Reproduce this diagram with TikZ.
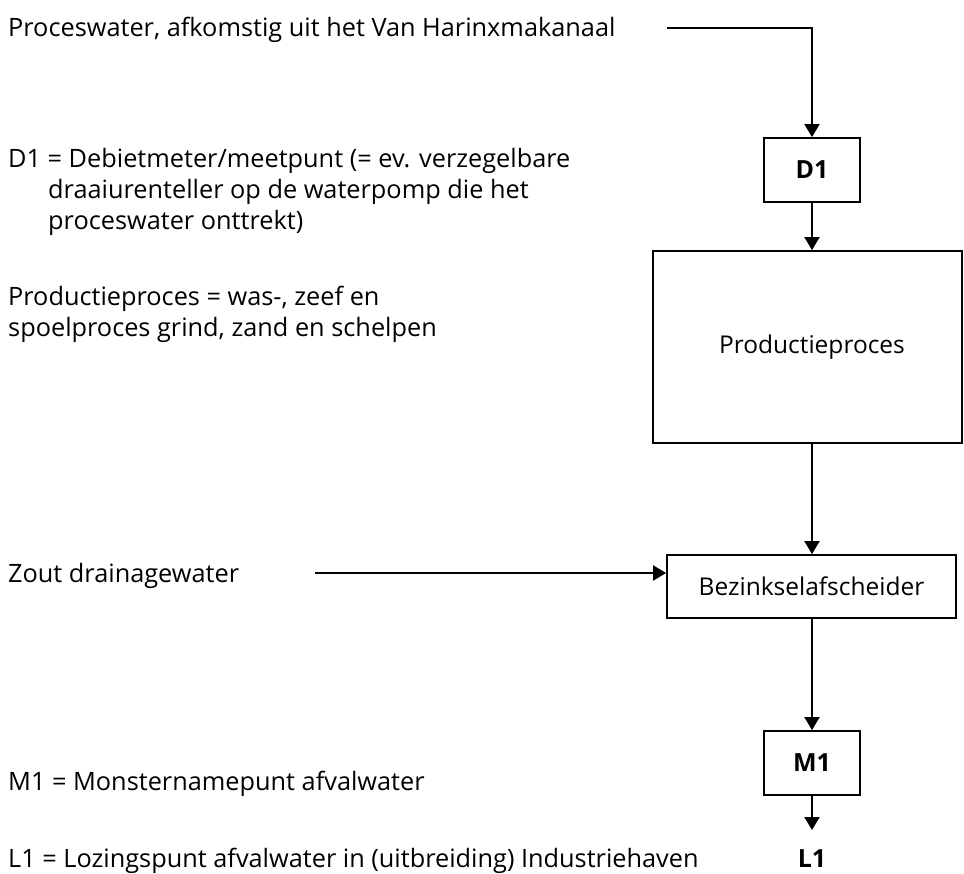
\documentclass[tikz,border=0pt]{standalone}
\usepackage{fontspec}
\setmainfont{Open Sans}
\usetikzlibrary{arrows.meta,calc}
\begin{document}
\begin{tikzpicture}[x=1pt,y=-1pt,
  box/.style={draw, line width=1.8pt, minimum width=96pt, minimum height=64pt, inner sep=0pt, font=\fontsize{25}{30}\selectfont\bfseries},
  bigbox/.style={draw, line width=1.8pt, inner sep=0pt, font=\fontsize{24.5}{30}\selectfont},
  lbl/.style={anchor=base west, inner sep=0pt, font=\fontsize{25.3}{30}\selectfont},
  flow/.style={line width=2pt, -{Triangle[length=13pt,width=15pt]}},
  ]
\useasboundingbox (0,0) rectangle (964,873);
% left labels
\node[lbl] (t1) at (8,36) {Proceswater, afkomstig uit het Van Harinxmakanaal};
\node[lbl] (t2a) at (8,167) {D1 = Debietmeter/meetpunt (= ev. verzegelbare};
\node[lbl] (t2b) at (48,198) {draaiurenteller op de waterpomp die het};
\node[lbl] (t2c) at (48,229) {proceswater onttrekt)};
\node[lbl] (t3a) at (8,305) {Productieproces = was-, zeef en};
\node[lbl] (t3b) at (8,336) {spoelproces grind, zand en schelpen};
\node[lbl] (t4) at (8,582) {Zout drainagewater};
\node[lbl] (t5) at (8,790) {M1 = Monsternamepunt afvalwater};
\node[lbl] (t6) at (8,867) {L1 = Lozingspunt afvalwater in (uitbreiding) Industriehaven};
% boxes
\node[box] (D1) at (812,170) {D1};
\node[bigbox, minimum width=309pt, minimum height=192pt] (prod) at (807.5,347) {\hspace*{9pt}Productieproces};
\node[bigbox, minimum width=289pt, minimum height=63pt] (bez) at (811.5,586.5) {Bezinkselafscheider};
\node[box] (M1) at (812,763) {M1};
\node[anchor=north, inner xsep=0pt, inner ysep=19pt, font=\fontsize{25}{30}\selectfont\bfseries] (L1) at (812,830) {L1};
% connectors
\coordinate (pw) at (667,28);
\draw[flow] (pw) -| (D1.north);
\draw[flow] (D1.south) -- (D1.south |- prod.north);
\draw[flow] (D1.south |- prod.south) -- (D1.south |- bez.north);
\coordinate (zs) at (315,573);
\draw[flow] (zs) -- (zs -| bez.west);
\draw[flow] (M1.north |- bez.south) -- (M1.north);
\draw[flow] (M1.south) -- (L1.north);
\end{tikzpicture}
\end{document}
